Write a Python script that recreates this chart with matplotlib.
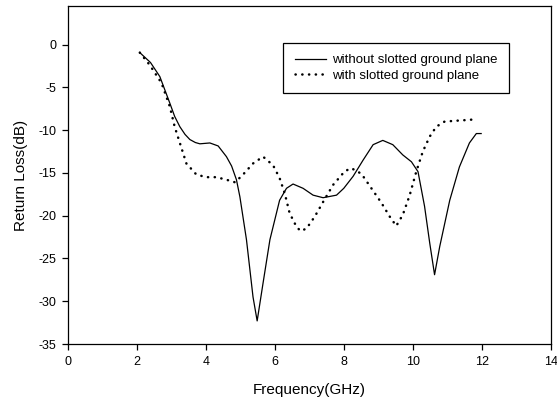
import matplotlib
matplotlib.use("Agg")
import matplotlib.pyplot as plt

plt.rcParams['font.family'] = ['Liberation Sans', 'DejaVu Sans']
plt.rcParams['axes.unicode_minus'] = False

# without slotted ground plane (solid)
freq_plain = [2.09, 2.4, 2.67, 2.96, 3.1, 3.25, 3.4, 3.54, 3.7, 3.83, 4.12, 4.36, 4.6, 4.75,
              4.89, 4.99, 5.18, 5.37, 5.49, 5.66, 5.86, 6.14, 6.34, 6.53, 6.82, 7.11, 7.4,
              7.79, 8.0, 8.27, 8.56, 8.85, 9.13, 9.42, 9.71, 9.96, 10.15, 10.34,
              10.49, 10.63, 10.78, 11.07, 11.35, 11.64, 11.84, 11.98]
rl_plain = [-0.94, -2.1, -3.74, -6.85, -8.4, -9.6, -10.5, -11.1, -11.45, -11.6, -11.5, -11.85,
            -13.1, -14.2, -15.8, -17.8, -22.8, -29.5, -32.3, -27.9, -22.8, -18.2, -16.8, -16.3,
            -16.8, -17.6, -17.9, -17.6, -16.8, -15.4, -13.5, -11.7, -11.2, -11.7, -12.9, -13.7,
            -14.85, -18.9, -23.2, -26.9, -23.6, -18.2, -14.3, -11.5, -10.4, -10.4]

# with slotted ground plane (dotted)
freq_slot = [2.09, 2.38, 2.72, 2.96, 3.1, 3.25, 3.44, 3.73, 4.02, 4.31, 4.6, 4.85,
             5.08, 5.37, 5.66, 5.95, 6.14, 6.29, 6.43, 6.63, 6.75, 6.92, 7.16, 7.4,
             7.69, 8.03, 8.22, 8.51, 8.8, 9.09, 9.33, 9.52, 9.71, 9.91, 10.1, 10.29,
             10.49, 10.68, 10.92, 11.26, 11.64, 11.88]
rl_slot = [-0.94, -2.4, -4.5, -7.25, -9.6, -11.5, -13.9, -15.2, -15.5, -15.5, -15.8, -16.1,
           -15.2, -13.9, -13.1, -14.1, -15.6, -17.4, -19.7, -21.3, -21.8, -21.5, -20.1, -18.4,
           -16.4, -14.8, -14.45, -15.1, -16.8, -18.5, -20.1, -21.2, -19.9, -17.6, -14.85, -12.5,
           -10.75, -9.6, -9.0, -8.9, -8.8, -8.7]

fig = plt.figure(figsize=(5.57, 4.05), dpi=100)
ax = fig.add_axes([0.1215, 0.1506, 0.8675, 0.8344])

ax.plot(freq_plain, rl_plain, color='black', lw=0.9, label='without slotted ground plane')
ax.plot(freq_slot, rl_slot, color='black', lw=1.8, linestyle=(0, (0.1, 2.6)),
        dash_capstyle='round', label='with slotted ground plane')

ax.set_xlim(0, 14)
ax.set_ylim(-35, 4.5)
ax.set_xticks(range(0, 15, 2))
ax.set_yticks(range(-35, 1, 5))
ax.tick_params(direction='out', length=4.3, width=0.9, labelsize=9, pad=4,
               top=False, right=False)
for s in ax.spines.values():
    s.set_linewidth(0.9)

ax.set_xlabel('Frequency(GHz)', fontsize=11, labelpad=11)
ax.set_ylabel('Return Loss(dB)', fontsize=11, labelpad=7)

leg = ax.legend(loc='upper right', bbox_to_anchor=(0.913, 0.891), borderaxespad=0,
                fontsize=9.5, handlelength=2.35, handletextpad=0.5, labelspacing=0.25,
                borderpad=0.85, fancybox=False, framealpha=1, edgecolor='black')
leg.get_frame().set_linewidth(0.9)

fig.savefig('out.png', dpi=100)
